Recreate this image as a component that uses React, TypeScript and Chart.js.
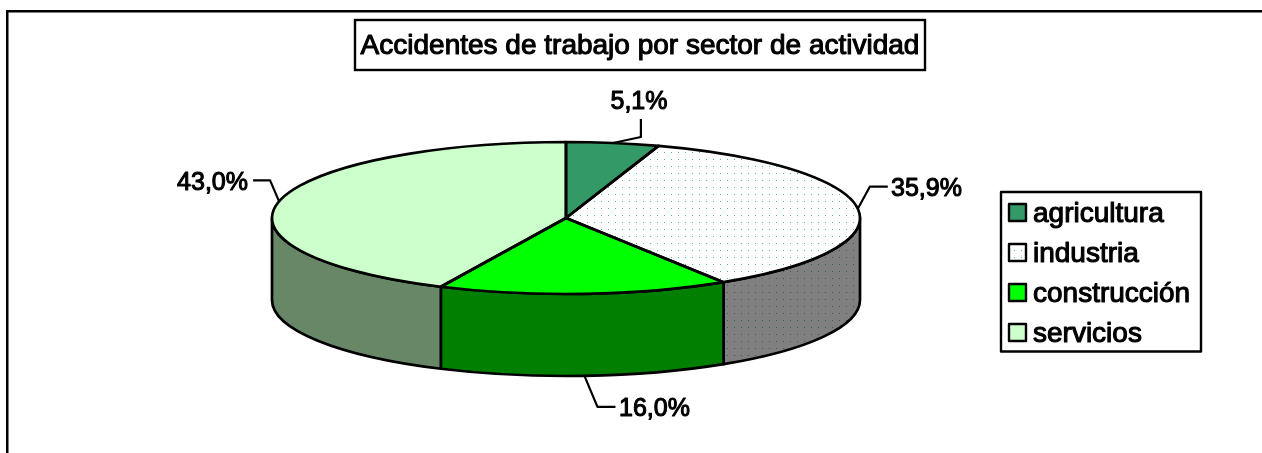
import React, { useEffect, useRef } from "react";
import { Chart, registerables } from "chart.js";

Chart.register(...registerables);

const titleText = "Accidentes de trabajo por sector de actividad";
const categories = ["agricultura", "industria", "construcción", "servicios"];
const values = [5.1, 35.9, 16.0, 43.0];
const valueLabels = ["5,1%", "35,9%", "16,0%", "43,0%"];
const topColors = ["#339966", "#ffffff", "#00ff00", "#ccffcc"];
const sideColors = ["#1f5c3d", "#808080", "#007f00", "#678767"];

const W = 1262, H = 453;
const CX = 566, CY = 218, RY = 76, RX = 294, DEPTH = 82;
const SX = RX / RY;
const FONT_LARGE = "28px 'Liberation Sans', Arial, sans-serif";
const FONT_LABEL = "25px 'Liberation Sans', Arial, sans-serif";
const INK = "#000000";
const LINE = 2.7;

function dotPattern(bg: string, dot: string, scaled: boolean) {
  const c = document.createElement("canvas");
  c.width = 7; c.height = 7;
  const g = c.getContext("2d")!;
  g.fillStyle = bg; g.fillRect(0, 0, 7, 7);
  g.fillStyle = dot;
  g.fillRect(6, 5, 1, 1);
  const p = g.createPattern(c, "repeat")!;
  // cancels the drawing transform so the dots stay on a square device-pixel grid
  if (scaled) p.setTransform(new DOMMatrix([1 / SX, 0, 0, 1, CX - CX / SX, 0]));
  return p;
}

function strongText(ctx: CanvasRenderingContext2D, t: string, x: number, y: number) {
  ctx.fillText(t, x, y);
  ctx.lineWidth = 1.1;
  ctx.lineJoin = "round";
  ctx.strokeStyle = INK;
  ctx.strokeText(t, x, y);
}

const pie3d = {
  id: "pie3d",
  beforeDraw(chart: any) {
    const ctx = chart.ctx as CanvasRenderingContext2D;
    ctx.save();
    ctx.fillStyle = "#ffffff";
    ctx.fillRect(0, 0, W, H);
    ctx.fillStyle = INK;
    ctx.fillRect(6, 10, W - 6, 2.5);
    ctx.fillRect(6, 10, 2.5, H - 10);
    ctx.restore();
  },
  beforeDatasetsDraw(chart: any) {
    const ctx = chart.ctx as CanvasRenderingContext2D;
    const arcs = chart.getDatasetMeta(0).data;
    // walls: only the near half of the ellipse is visible
    arcs.forEach((a: any, i: number) => {
      const lo = Math.max(a.startAngle, 0), hi = Math.min(a.endAngle, Math.PI);
      if (hi <= lo) return;
      ctx.save();
      ctx.beginPath();
      ctx.ellipse(a.x, a.y, RX, RY, 0, lo, hi, false);
      ctx.ellipse(a.x, a.y + DEPTH, RX, RY, 0, hi, lo, true);
      ctx.closePath();
      ctx.fillStyle = i === 1 ? dotPattern(sideColors[i], "#2f6049", false) : sideColors[i];
      ctx.fill();
      ctx.lineWidth = LINE;
      ctx.lineJoin = "round";
      ctx.strokeStyle = INK;
      ctx.stroke();
      ctx.restore();
    });
    // anisotropic scale: the library's circle becomes the ellipse
    const a0 = arcs[0];
    ctx.save();
    ctx.translate(a0.x, a0.y);
    ctx.scale(SX, 1);
    ctx.translate(-a0.x, -a0.y);
  },
  afterDatasetsDraw(chart: any) {
    const ctx = chart.ctx as CanvasRenderingContext2D;
    ctx.restore();
    const arcs = chart.getDatasetMeta(0).data;
    ctx.save();
    ctx.lineWidth = LINE;
    ctx.lineJoin = "round";
    ctx.strokeStyle = INK;
    arcs.forEach((a: any) => {
      ctx.beginPath();
      ctx.moveTo(a.x, a.y);
      ctx.ellipse(a.x, a.y, RX, RY, 0, a.startAngle, a.endAngle, false);
      ctx.closePath();
      ctx.stroke();
    });
    ctx.restore();
  },
  afterDraw(chart: any) {
    const ctx = chart.ctx as CanvasRenderingContext2D;
    const arcs = chart.getDatasetMeta(0).data;
    ctx.save();
    // title box
    const tx = 355, ty = 20, tw = 570, th = 50;
    ctx.fillStyle = "#ffffff"; ctx.fillRect(tx, ty, tw, th);
    ctx.strokeStyle = INK; ctx.lineWidth = 2.4;
    ctx.strokeRect(tx, ty, tw, th);
    ctx.fillStyle = INK;
    ctx.font = FONT_LARGE;
    ctx.textBaseline = "alphabetic";
    ctx.textAlign = "center";
    strongText(ctx, titleText, tx + tw / 2, 54);

    // data labels with leader lines that start on the slice's mid-angle
    const leaders: { dx1: number; dy1: number; dx2: number; dy2: number; lx: number; ly: number; al: CanvasTextAlign }[] = [
      { dx1: 28, dy1: -6, dx2: 28, dy2: -24, lx: 639, ly: 109, al: "center" },
      { dx1: 12, dy1: -22, dx2: 30, dy2: -22, lx: 891, ly: 196, al: "left" },
      { dx1: 13, dy1: 31, dx2: 31, dy2: 31, lx: 619, ly: 416, al: "left" },
      { dx1: -9, dy1: -21, dx2: -26, dy2: -21, lx: 248, ly: 190, al: "right" },
    ];
    ctx.font = FONT_LABEL;
    arcs.forEach((a: any, i: number) => {
      const m = (a.startAngle + a.endAngle) / 2;
      const px = a.x + RX * Math.cos(m);
      const py = a.y + RY * Math.sin(m) + (Math.sin(m) > 0.5 ? DEPTH : 0);
      const L = leaders[i];
      ctx.beginPath();
      ctx.moveTo(px, py);
      ctx.lineTo(px + L.dx1, py + L.dy1);
      ctx.lineTo(px + L.dx2, py + L.dy2);
      ctx.lineWidth = 2.2;
      ctx.strokeStyle = INK;
      ctx.stroke();
      ctx.textAlign = L.al;
      ctx.fillStyle = INK;
      strongText(ctx, valueLabels[i], L.lx, L.ly);
    });

    // legend
    const lx = 1001, ly = 192, lw = 200, lh = 159.5;
    ctx.fillStyle = "#ffffff"; ctx.fillRect(lx, ly, lw, lh);
    ctx.lineWidth = 2.4; ctx.strokeStyle = INK;
    ctx.strokeRect(lx, ly, lw, lh);
    ctx.textAlign = "left";
    ctx.font = FONT_LARGE;
    categories.forEach((c, i) => {
      const rowY = 213 + i * 40;
      ctx.fillStyle = i === 1 ? dotPattern("#ffffff", "#55bb88", false) : topColors[i];
      ctx.fillRect(1009, rowY - 9, 17, 17);
      ctx.lineWidth = 2.4; ctx.strokeStyle = INK;
      ctx.strokeRect(1009, rowY - 9, 17, 17);
      ctx.fillStyle = INK;
      strongText(ctx, c, 1033, rowY + 9);
    });
    ctx.restore();
  },
};

export default function App() {
  const ref = useRef<HTMLCanvasElement>(null);
  useEffect(() => {
    document.body.style.margin = "0";
    const chart = new Chart(ref.current!, {
      type: "pie",
      data: {
        labels: categories,
        datasets: [{
          data: values,
          backgroundColor: topColors.map((c, i) => (i === 1 ? dotPattern(c, "#55bb88", true) : c)) as any,
          borderWidth: 0,
        }],
      },
      options: {
        responsive: false,
        animation: false,
        events: [],
        layout: { padding: { top: CY - RY, bottom: H - CY - RY, left: 0, right: W - 2 * CX } },
        plugins: { legend: { display: false }, title: { display: false }, tooltip: { enabled: false } },
      },
      plugins: [pie3d],
    });
    return () => chart.destroy();
  }, []);
  return <canvas ref={ref} width={W} height={H} style={{ display: "block" }} />;
}
